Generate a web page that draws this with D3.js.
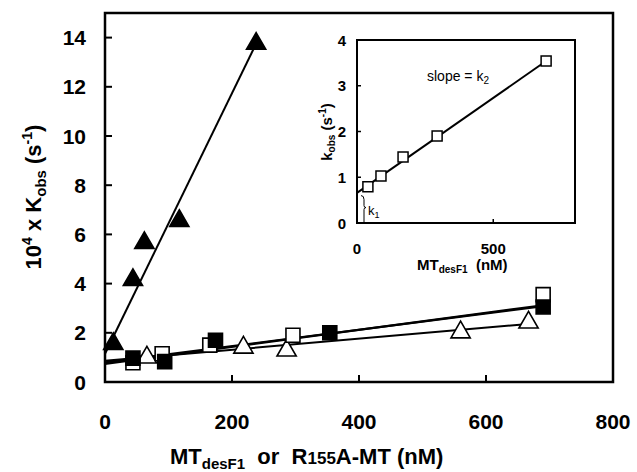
<!DOCTYPE html>
<html>
<head>
<meta charset="utf-8">
<script src="https://cdn.jsdelivr.net/npm/d3@7"></script>
<style>
  body { margin: 0; background: #fff; }
  text { font-family: "Liberation Sans", Arial, sans-serif; fill: #000; }
</style>
</head>
<body>
<svg id="chart" width="637" height="472"></svg>
<script>
// main chart data (concentration nM, 10^4 x Kobs)
var filledTriX = [13, 44, 62, 117, 238];
var filledTriY = [1.55, 4.15, 5.65, 6.55, 13.75];
var openSqX = [44, 90, 165, 296, 690];
var openSqY = [0.78, 1.15, 1.5, 1.9, 3.55];
var filledSqX = [44, 94, 174, 354, 690];
var filledSqY = [0.97, 0.83, 1.7, 2.0, 3.05];
var openTriX = [66, 218, 286, 560, 667];
var openTriY = [1.0, 1.4, 1.28, 2.02, 2.42];

// fitted lines [x0, y0, x1, y1]
var fitTri = [0, 1.15, 238, 13.75];
var fitFilledSq = [0, 0.8, 690, 3.08];
var fitOpenSq = [0, 0.74, 690, 3.12];
var fitOpenTri = [0, 0.86, 667, 2.36];

// inset data (kobs s^-1)
var insetX = [40, 88, 169, 294, 694];
var insetY = [0.79, 1.03, 1.44, 1.9, 3.54];
var insetFit = [0, 0.66, 694, 3.54];

var xTicks = [0, 200, 400, 600, 800];
var yTicks = [0, 2, 4, 6, 8, 10, 12, 14];
var insetXTicks = [0, 500];
var insetYTicks = [0, 1, 2, 3, 4];

var svg = d3.select("#chart");

var x = d3.scaleLinear().domain([0, 800]).range([105, 613]);
var y = d3.scaleLinear().domain([0, 15]).range([382, 13]);

// frame
svg.append("rect")
  .attr("x", x(0)).attr("y", y(15))
  .attr("width", x(800) - x(0)).attr("height", y(0) - y(15))
  .attr("fill", "none").attr("stroke", "#000").attr("stroke-width", 2.5);

// inward ticks
svg.selectAll(".xt").data([200, 400, 600]).enter().append("line")
  .attr("x1", function(d){ return x(d); }).attr("x2", function(d){ return x(d); })
  .attr("y1", y(0)).attr("y2", y(0) - 7)
  .attr("stroke", "#000").attr("stroke-width", 2);
svg.selectAll(".yt").data(yTicks.slice(1)).enter().append("line")
  .attr("x1", x(0)).attr("x2", x(0) + 7)
  .attr("y1", function(d){ return y(d); }).attr("y2", function(d){ return y(d); })
  .attr("stroke", "#000").attr("stroke-width", 2);

// tick labels
svg.selectAll(".xl").data(xTicks).enter().append("text")
  .attr("x", function(d){ return x(d); }).attr("y", 429)
  .attr("text-anchor", "middle").attr("font-size", 21).attr("font-weight", "bold")
  .text(function(d){ return d; });
svg.selectAll(".yl").data(yTicks).enter().append("text")
  .attr("x", 86).attr("y", function(d){ return y(d) + 7.5; })
  .attr("text-anchor", "end").attr("font-size", 21).attr("font-weight", "bold")
  .text(function(d){ return d; });

// axis titles
var xt = svg.append("text").attr("x", 170).attr("y", 464)
  .attr("font-size", 22).attr("font-weight", "bold");
xt.append("tspan").text("MT");
xt.append("tspan").attr("font-size", 15).attr("dy", 5).text("desF1");
xt.append("tspan").attr("dy", -5).text("\u00a0\u00a0or\u00a0\u00a0R");
xt.append("tspan").attr("font-size", 17).text("155");
xt.append("tspan").text("A-MT (nM)");

var yt = svg.append("text")
  .attr("transform", "translate(41,197) rotate(-90)")
  .attr("text-anchor", "middle").attr("font-size", 22).attr("font-weight", "bold");
yt.append("tspan").text("10");
yt.append("tspan").attr("font-size", 14).attr("dy", -9).text("4");
yt.append("tspan").attr("dy", 9).text(" x K");
yt.append("tspan").attr("font-size", 15).attr("dy", 5).text("obs");
yt.append("tspan").attr("dy", -5).text(" (s");
yt.append("tspan").attr("font-size", 14).attr("dy", -9).text("-1");
yt.append("tspan").attr("dy", 9).text(")");

// fit lines
function fitLine(f, w) {
  svg.append("line")
    .attr("x1", x(f[0])).attr("y1", y(f[1]))
    .attr("x2", x(f[2])).attr("y2", y(f[3]))
    .attr("stroke", "#000").attr("stroke-width", w);
}
fitLine(fitOpenTri, 2);
fitLine(fitOpenSq, 2.2);
fitLine(fitFilledSq, 2.2);
fitLine(fitTri, 2);

// markers
var sqSym = d3.symbol().type(d3.symbolSquare).size(196);
var triSym = d3.symbol().type(d3.symbolTriangle).size(160);

function drawPts(xs, ys, sym, fill, cls) {
  svg.selectAll("." + cls).data(xs).enter().append("path")
    .attr("class", cls)
    .attr("d", sym)
    .attr("transform", function(d, i){ return "translate(" + x(d) + "," + y(ys[i]) + ")"; })
    .attr("fill", fill).attr("stroke", "#000").attr("stroke-width", 1.6);
}
drawPts(openTriX, openTriY, triSym, "#fff", "otri");
drawPts(openSqX, openSqY, sqSym, "#fff", "osq");
drawPts(filledSqX, filledSqY, sqSym, "#000", "fsq");
drawPts(filledTriX, filledTriY, triSym, "#000", "ftri");

// ---- inset ----
var ix = d3.scaleLinear().domain([0, 800]).range([357, 575]);
var iy = d3.scaleLinear().domain([0, 4]).range([223, 40]);

svg.append("rect")
  .attr("x", ix(0)).attr("y", iy(4))
  .attr("width", ix(800) - ix(0)).attr("height", iy(0) - iy(4))
  .attr("fill", "#fff").attr("stroke", "#000").attr("stroke-width", 2);

svg.append("line")
  .attr("x1", ix(500)).attr("x2", ix(500))
  .attr("y1", iy(0)).attr("y2", iy(0) - 4)
  .attr("stroke", "#000").attr("stroke-width", 1.5);
svg.selectAll(".iyt").data([1, 2, 3]).enter().append("line")
  .attr("x1", ix(0)).attr("x2", ix(0) + 4)
  .attr("y1", function(d){ return iy(d); }).attr("y2", function(d){ return iy(d); })
  .attr("stroke", "#000").attr("stroke-width", 1.5);

svg.selectAll(".ixl").data(insetXTicks).enter().append("text")
  .attr("x", function(d){ return ix(d); }).attr("y", 254)
  .attr("text-anchor", "middle").attr("font-size", 15).attr("font-weight", "bold")
  .text(function(d){ return d; });
svg.selectAll(".iyl").data(insetYTicks).enter().append("text")
  .attr("x", 346).attr("y", function(d){ return iy(d) + 5.5; })
  .attr("text-anchor", "end").attr("font-size", 15).attr("font-weight", "bold")
  .text(function(d){ return d; });

var ixt = svg.append("text").attr("x", 417).attr("y", 270)
  .attr("font-size", 15).attr("font-weight", "bold");
ixt.append("tspan").text("MT");
ixt.append("tspan").attr("font-size", 10).attr("dy", 3).text("desF1");
ixt.append("tspan").attr("dy", -3).text("\u00a0\u00a0(nM)");

var iyt = svg.append("text")
  .attr("transform", "translate(332,132) rotate(-90)")
  .attr("text-anchor", "middle").attr("font-size", 15).attr("font-weight", "bold");
iyt.append("tspan").text("k");
iyt.append("tspan").attr("font-size", 10).attr("dy", 3).text("obs");
iyt.append("tspan").attr("dy", -3).text(" (s");
iyt.append("tspan").attr("font-size", 10).attr("dy", -6).text("-1");
iyt.append("tspan").attr("dy", 6).text(")");

svg.append("line")
  .attr("x1", ix(insetFit[0])).attr("y1", iy(insetFit[1]))
  .attr("x2", ix(insetFit[2])).attr("y2", iy(insetFit[3]))
  .attr("stroke", "#000").attr("stroke-width", 2);

svg.selectAll(".isq").data(insetX).enter().append("path")
  .attr("d", d3.symbol().type(d3.symbolSquare).size(100))
  .attr("transform", function(d, i){ return "translate(" + ix(d) + "," + iy(insetY[i]) + ")"; })
  .attr("fill", "#fff").attr("stroke", "#000").attr("stroke-width", 1.5);

// k1 brace and labels
svg.append("path")
  .attr("d", "M" + (ix(0) + 4) + "," + iy(0.6) + " q3,0 3,4 v6 q0,2 2,2 q-2,0 -2,2 v" + (iy(0) - iy(0.6) - 14))
  .attr("fill", "none").attr("stroke", "#000").attr("stroke-width", 1);
var k1 = svg.append("text").attr("x", 368).attr("y", 215).attr("font-size", 13);
k1.append("tspan").text("k");
k1.append("tspan").attr("font-size", 9).attr("dy", 3).text("1");

var k2 = svg.append("text").attr("x", 427).attr("y", 81).attr("font-size", 14);
k2.append("tspan").text("slope = k");
k2.append("tspan").attr("font-size", 10).attr("dy", 3).text("2");
</script>
</body>
</html>
